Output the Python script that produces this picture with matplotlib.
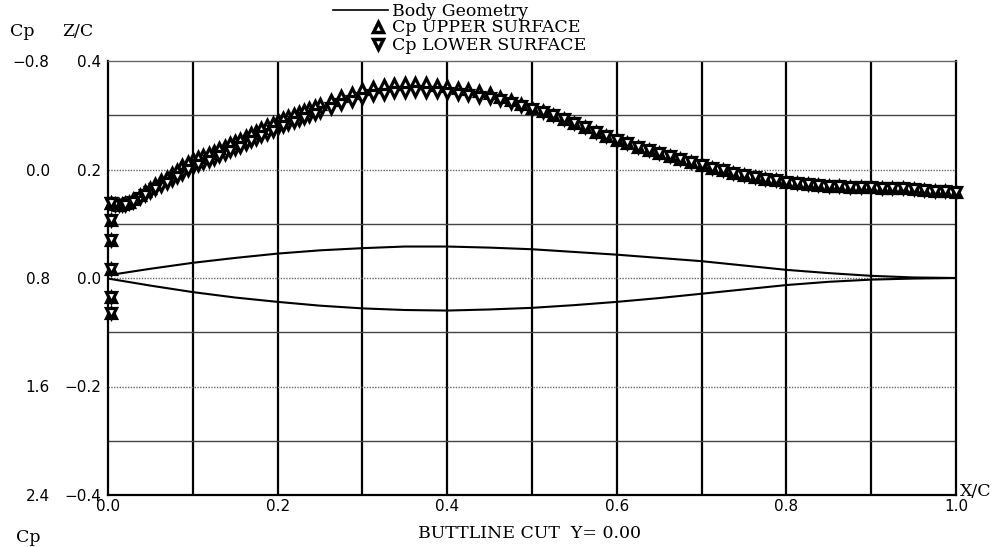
import matplotlib
matplotlib.use("Agg")
import matplotlib.pyplot as plt
from matplotlib.lines import Line2D

# ---------------- data ----------------
x_cp = [0.0125, 0.025, 0.0375, 0.05, 0.0625, 0.075, 0.0875, 0.1, 0.1125, 0.125,
        0.1375, 0.15, 0.1625, 0.175, 0.1875, 0.2, 0.2125, 0.225, 0.2375, 0.25,
        0.2625, 0.275, 0.2875, 0.3, 0.3125, 0.325, 0.3375, 0.35, 0.3625, 0.375,
        0.3875, 0.4, 0.4125, 0.425, 0.4375, 0.45, 0.4625, 0.475, 0.4875, 0.5,
        0.5125, 0.525, 0.5375, 0.55, 0.5625, 0.575, 0.5875, 0.6, 0.6125, 0.625,
        0.6375, 0.65, 0.6625, 0.675, 0.6875, 0.7, 0.7125, 0.725, 0.7375, 0.75,
        0.7625, 0.775, 0.7875, 0.8, 0.8125, 0.825, 0.8375, 0.85, 0.8625, 0.875,
        0.8875, 0.9, 0.9125, 0.925, 0.9375, 0.95, 0.9625, 0.975, 0.9875, 1.0]

cp_upper = [0.26, 0.240, 0.19, 0.135, 0.08, 0.025, -0.03, -0.075, -0.108, -0.14,
            -0.175, -0.21, -0.248, -0.285, -0.325, -0.365, -0.395, -0.425, -0.454, -0.483,
            -0.512, -0.54, -0.565, -0.59, -0.607, -0.62, -0.629, -0.635, -0.637, -0.635,
            -0.626, -0.616, -0.604, -0.593, -0.578, -0.562, -0.537, -0.510, -0.484, -0.457,
            -0.429, -0.400, -0.372, -0.343, -0.312, -0.280, -0.249, -0.218, -0.193, -0.168,
            -0.145, -0.122, -0.098, -0.075, -0.054, -0.033, -0.014, 0.005, 0.023, 0.040,
            0.054, 0.068, 0.079, 0.090, 0.099, 0.108, 0.114, 0.120, 0.123, 0.126,
            0.128, 0.130, 0.134, 0.137, 0.140, 0.144, 0.150, 0.155, 0.160, 0.166]

cp_lower = [0.26, 0.250, 0.21, 0.165, 0.12, 0.075, 0.03, -0.015, -0.048, -0.08,
            -0.115, -0.15, -0.188, -0.225, -0.265, -0.305, -0.335, -0.365, -0.394, -0.423,
            -0.452, -0.48, -0.505, -0.53, -0.547, -0.56, -0.569, -0.575, -0.577, -0.575,
            -0.568, -0.561, -0.554, -0.548, -0.538, -0.528, -0.510, -0.490, -0.470, -0.449,
            -0.425, -0.400, -0.372, -0.343, -0.312, -0.280, -0.249, -0.218, -0.193, -0.168,
            -0.145, -0.122, -0.098, -0.075, -0.054, -0.033, -0.014, 0.005, 0.023, 0.040,
            0.054, 0.068, 0.079, 0.090, 0.099, 0.108, 0.114, 0.120, 0.123, 0.126,
            0.128, 0.130, 0.134, 0.137, 0.140, 0.144, 0.150, 0.155, 0.160, 0.166]

# extra dense stations near the leading edge (upper / lower)
x_le_dense = [0.004, 0.008, 0.016, 0.02, 0.03, 0.044, 0.056, 0.069, 0.081, 0.094,
              0.106, 0.119, 0.131, 0.144, 0.156, 0.169, 0.181, 0.194, 0.206, 0.219,
              0.231, 0.244]
cp_le_dense_upper = [0.25, 0.258, 0.255, 0.248, 0.22, 0.161, 0.107, 0.053, 0.0, -0.053,
                     -0.09, -0.125, -0.157, -0.193, -0.228, -0.267, -0.305, -0.345, -0.38, -0.41,
                     -0.44, -0.47]
cp_le_dense_lower = [0.25, 0.263, 0.265, 0.263, 0.24, 0.189, 0.143, 0.098, 0.052, 0.007,
                     -0.03, -0.065, -0.097, -0.133, -0.168, -0.207, -0.245, -0.285, -0.32, -0.35,
                     -0.38, -0.41]

# leading-edge points (x ~ 0)
x_le = [0.003, 0.003, 0.003, 0.003, 0.003, 0.003]
cp_le = [0.25, 0.37, 0.52, 0.73, 0.94, 1.06]

x_body = [0.0, 0.05, 0.1, 0.15, 0.2, 0.25, 0.3, 0.35, 0.4, 0.45, 0.5,
          0.55, 0.6, 0.65, 0.7, 0.75, 0.8, 0.85, 0.9, 0.95, 1.0]
z_body_upper = [0.005, 0.017, 0.028, 0.037, 0.045, 0.051, 0.055, 0.058, 0.058, 0.056, 0.053,
                0.048, 0.043, 0.037, 0.031, 0.023, 0.015, 0.009, 0.004, 0.001, 0.0]
z_body_lower = [-0.001, -0.014, -0.026, -0.036, -0.044, -0.051, -0.056, -0.059, -0.060, -0.058, -0.055,
                -0.050, -0.044, -0.037, -0.029, -0.021, -0.013, -0.007, -0.003, -0.001, 0.0]

x_ticks = [0.0, 0.2, 0.4, 0.6, 0.8, 1.0]
z_ticks = [0.4, 0.2, 0.0, -0.2, -0.4]
cp_ticks = [-0.8, 0.0, 0.8, 1.6, 2.4]

# ---------------- figure ----------------
W, H = 1007, 547
fig = plt.figure(figsize=(W / 100, H / 100), dpi=100)
L, R, T, B = 108, 956, 61, 495
ax = fig.add_axes([L / W, 1 - B / H, (R - L) / W, (B - T) / H])
ax.set_xlim(0, 1)
ax.set_ylim(-0.4, 0.4)

num_font = dict(family="DejaVu Sans", size=11)
ser_font = dict(family="DejaVu Serif", size=12.5)

# grid
for xv in [0.1 * i for i in range(1, 10)]:
    ax.axvline(xv, color="black", lw=1.6, zorder=1)
for zv in [0.3, 0.1, -0.1, -0.3]:
    ax.axhline(zv, color="#444444", lw=1.0, zorder=1)
for zv in [0.2, 0.0, -0.2]:
    ax.axhline(zv, color="#666666", lw=1.0, ls=(0, (1, 1)), zorder=1)

for s in ["left", "right", "bottom"]:
    ax.spines[s].set_linewidth(1.6)
    ax.spines[s].set_color("black")
ax.spines["top"].set_linewidth(1.0)
ax.spines["top"].set_color("#666666")
ax.spines["top"].set_linestyle((0, (1, 1)))

ax.set_xticks(x_ticks)
ax.set_xticklabels([f"{v:.1f}" for v in x_ticks], **num_font)
ax.set_yticks(z_ticks)
ax.set_yticklabels([f"{v:.1f}".replace("-", "\u2212") for v in z_ticks], **num_font)
ax.tick_params(axis="both", length=0)
ax.tick_params(axis="x", pad=3)
ax.tick_params(axis="y", pad=5)

# body geometry
ax.plot(x_body, z_body_upper, color="black", lw=1.5, zorder=3)
ax.plot(x_body, z_body_lower, color="black", lw=1.5, zorder=3)

# Cp axis
ax2 = ax.twinx()
ax2.set_ylim(2.4, -0.8)
ax2.set_xlim(0, 1)
for s in ax2.spines.values():
    s.set_visible(False)
ax2.yaxis.set_ticks_position("left")
ax2.spines["left"].set_position(("outward", 37))
ax2.set_yticks(cp_ticks)
ax2.set_yticklabels([f"{v:.1f}".replace("-", "\u2212") for v in cp_ticks], **num_font)
ax2.tick_params(axis="y", length=0, pad=5)

mk = dict(ls="none", markersize=7.5, markerfacecolor="white", markeredgecolor="black",
          markeredgewidth=2.3, clip_on=False)
ax2.plot(x_cp, cp_upper, marker="^", zorder=4, **mk)
ax2.plot(x_cp, cp_lower, marker="v", zorder=4, **mk)
ax2.plot(x_le_dense, cp_le_dense_upper, marker="^", zorder=4, **mk)
ax2.plot(x_le_dense, cp_le_dense_lower, marker="v", zorder=4, **mk)
ax2.plot(x_le, cp_le, marker="^", zorder=4, **mk)
ax2.plot(x_le, cp_le, marker="v", zorder=4, **mk)

# axis titles
fig.text(10 / W, 1 - 32 / H, "Cp", ha="left", va="center", **ser_font)
fig.text(62 / W, 1 - 32 / H, "Z/C", ha="left", va="center", **ser_font)
fig.text(16 / W, 1 - 537 / H, "Cp", ha="left", va="center", **ser_font)
fig.text(960 / W, 1 - 491 / H, "X/C", ha="left", va="center", **ser_font)
fig.text(529 / W, 1 - 533 / H, "BUTTLINE CUT  Y= 0.00", ha="center", va="center", **ser_font)

# legend (manual)
fig.add_artist(Line2D([333 / W, 388 / W], [1 - 10 / H, 1 - 10 / H], color="black", lw=1.2,
                      transform=fig.transFigure))
fig.add_artist(Line2D([378 / W], [1 - 27 / H], marker="^", ls="none", markersize=7,
                      markerfacecolor="white", markeredgecolor="black", markeredgewidth=2.5,
                      transform=fig.transFigure))
fig.add_artist(Line2D([378 / W], [1 - 44 / H], marker="v", ls="none", markersize=7,
                      markerfacecolor="white", markeredgecolor="black", markeredgewidth=2.5,
                      transform=fig.transFigure))
fig.text(392 / W, 1 - 11 / H, "Body Geometry", ha="left", va="center", **ser_font)
fig.text(392 / W, 1 - 28 / H, "Cp UPPER SURFACE", ha="left", va="center", **ser_font)
fig.text(392 / W, 1 - 45 / H, "Cp LOWER SURFACE", ha="left", va="center", **ser_font)

fig.savefig("out.png", dpi=100, facecolor="white")
